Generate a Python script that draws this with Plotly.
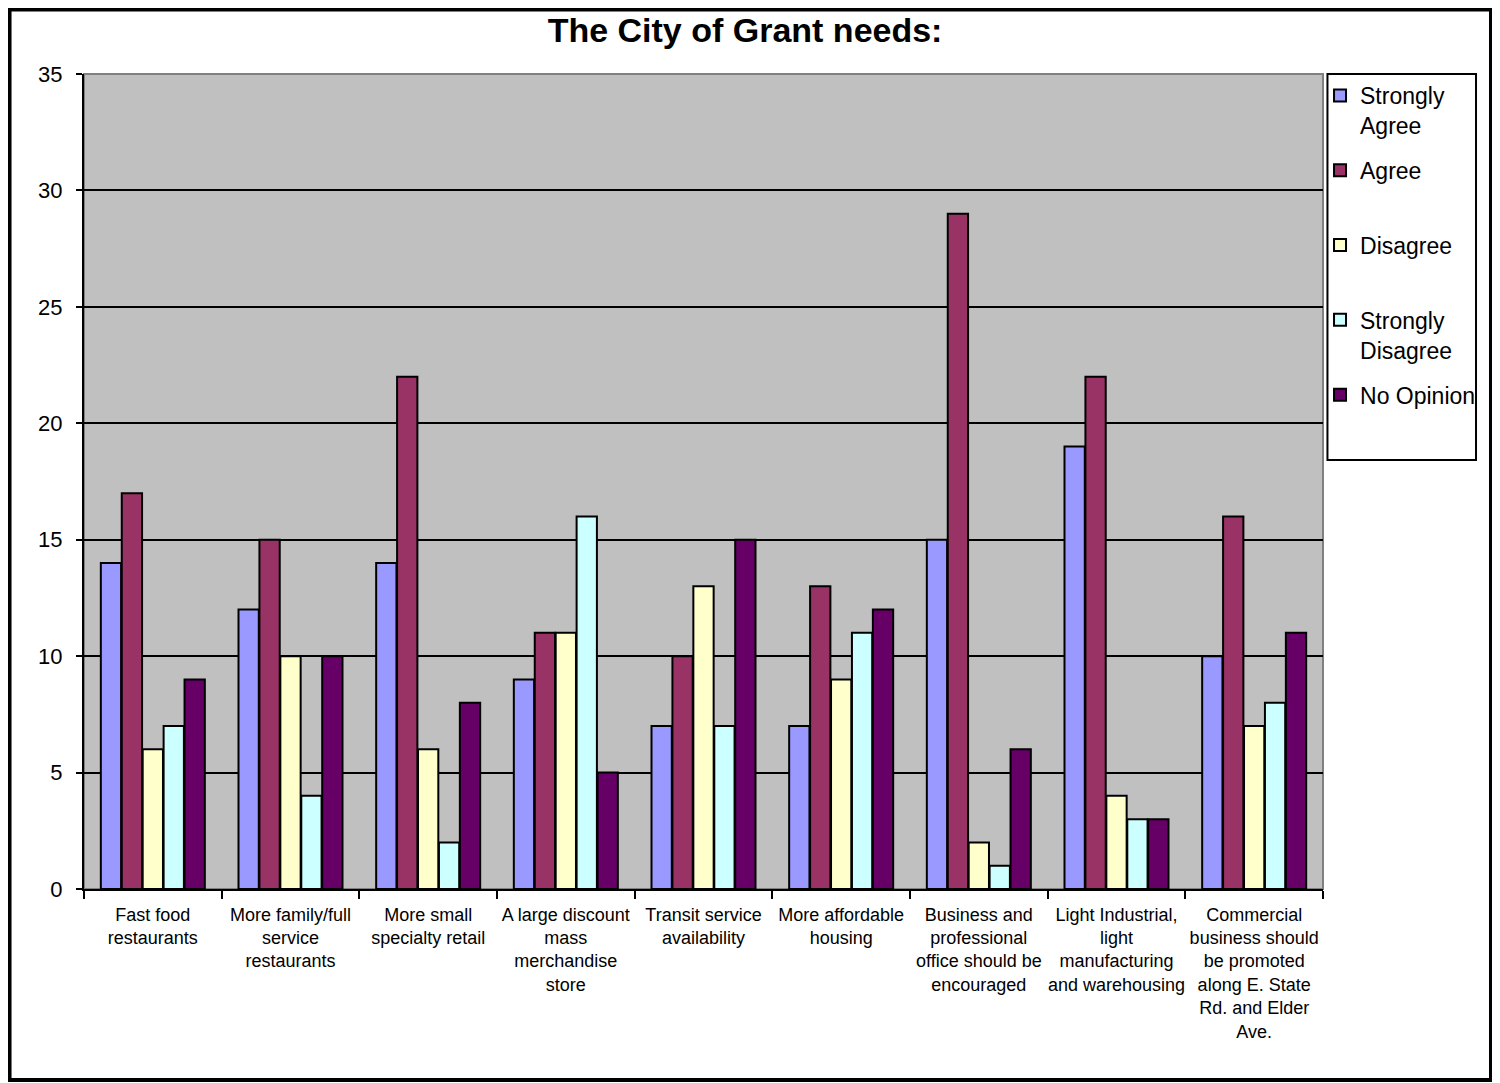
import plotly.graph_objects as go

# Survey categories (x axis)
categories = [
    "Fast food<br>restaurants",
    "More family/full<br>service<br>restaurants",
    "More small<br>specialty retail",
    "A large discount<br>mass<br>merchandise<br>store",
    "Transit service<br>availability",
    "More affordable<br>housing",
    "Business and<br>professional<br>office should be<br>encouraged",
    "Light Industrial,<br>light<br>manufacturing<br>and warehousing",
    "Commercial<br>business should<br>be promoted<br>along E. State<br>Rd. and Elder<br>Ave.",
]

strongly_agree = [14, 12, 14, 9, 7, 7, 15, 19, 10]
agree = [17, 15, 22, 11, 10, 13, 29, 22, 16]
disagree = [6, 10, 6, 11, 13, 9, 2, 4, 7]
strongly_disagree = [7, 4, 2, 16, 7, 11, 1, 3, 8]
no_opinion = [9, 10, 8, 5, 15, 12, 6, 3, 11]

series_names = ["Strongly<br>Agree", "Agree", "Disagree", "Strongly<br>Disagree", "No Opinion"]
series_values = [strongly_agree, agree, disagree, strongly_disagree, no_opinion]
series_colors = ["#9999FF", "#993366", "#FFFFCC", "#CCFFFF", "#660066"]

FONT = "Arial, Liberation Sans, sans-serif"

fig = go.Figure()
for i, (name, vals, color) in enumerate(zip(series_names, series_values, series_colors)):
    # single-line names get a blank second line so every legend slot is the same height
    label = name if "<br>" in name else name + "<br>\u00a0"
    fig.add_trace(go.Bar(
        x=categories,
        y=vals,
        name=label,
        legendgroup=f"g{i}",
        marker=dict(color=color, line=dict(color="black", width=2)),
    ))

# plot area border (grey, Excel style), outer chart frame, legend frame
fig.add_shape(type="rect", xref="paper", yref="paper", x0=0, x1=1, y0=0, y1=1,
              line=dict(color="#808080", width=2), layer="below")
fig.add_shape(type="rect", xref="paper", yref="paper",
              x0=-0.0601, x1=1.1356, y0=-0.2344, y1=1.0791,
              line=dict(color="black", width=4))
fig.add_shape(type="rect", xref="paper", yref="paper",
              x0=1.0036, x1=1.1235, y0=0.5264, y1=1.0,
              line=dict(color="black", width=2))

fig.update_layout(
    width=1492,
    height=1075,
    title=dict(
        text="<b>The City of Grant needs:</b>",
        x=0.494, xref="container", xanchor="center",
        y=0.9795, yref="container", yanchor="middle",
        font=dict(family=FONT, size=34, color="black"),
    ),
    barmode="group",
    bargap=0.24,
    bargroupgap=0.03,
    plot_bgcolor="#C0C0C0",
    paper_bgcolor="white",
    font=dict(family=FONT, color="black"),
    margin=dict(l=76, r=177, t=66, b=194),
    showlegend=True,
    legend=dict(
        x=0.9976, xanchor="left",
        y=1.0, yanchor="top",
        font=dict(family=FONT, size=23, color="black"),
        valign="top",
        itemwidth=30,
        bgcolor="rgba(0,0,0,0)",
        borderwidth=0,
        tracegroupgap=12,
    ),
    xaxis=dict(
        type="category",
        tickson="boundaries",
        ticks="outside",
        ticklen=8,
        tickwidth=2,
        tickcolor="black",
        ticklabelstandoff=8,
        showline=True,
        linecolor="black",
        linewidth=2,
        showgrid=False,
        tickangle=0,
        tickfont=dict(family=FONT, size=18, color="black"),
    ),
    yaxis=dict(
        range=[0, 35],
        dtick=5,
        ticks="outside",
        ticklen=6,
        tickwidth=2,
        tickcolor="black",
        ticklabelstandoff=9,
        showline=True,
        linecolor="black",
        linewidth=2,
        gridcolor="black",
        gridwidth=2,
        zeroline=False,
        tickfont=dict(family=FONT, size=22, color="black"),
    ),
)

fig.write_html("out.html")
